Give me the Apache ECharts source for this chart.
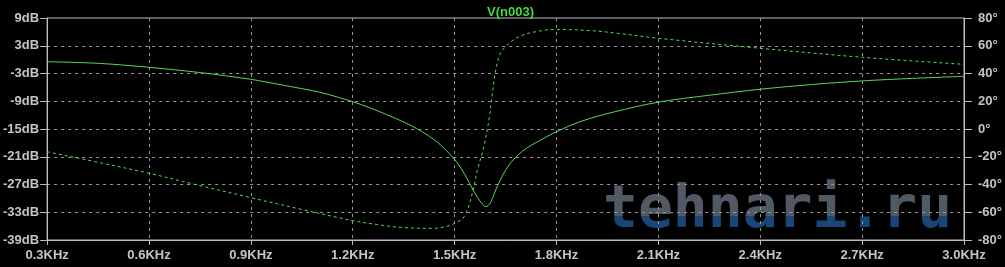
<!DOCTYPE html>
<html>
<head>
<meta charset="utf-8">
<script src="https://cdn.jsdelivr.net/npm/echarts@6/dist/echarts.min.js"></script>
<style>
html,body{margin:0;padding:0;background:#000;}
#c{width:1005px;height:267px;}
</style>
</head>
<body>
<div id="c"></div>
<script>
// Frequency axis (KHz)
const freqTicks = [0.3, 0.6, 0.9, 1.2, 1.5, 1.8, 2.1, 2.4, 2.7, 3.0];
const dbTicks = [-39, -33, -27, -21, -15, -9, -3, 3, 9];
const degTicks = [-80, -60, -40, -20, 0, 20, 40, 60, 80];

// Magnitude V(n003) in dB
const magFreq = [0.30, 0.45, 0.60, 0.75, 0.90, 1.00, 1.10, 1.16, 1.20, 1.25, 1.30, 1.35, 1.40, 1.45, 1.48, 1.50, 1.52, 1.54, 1.56, 1.575, 1.592, 1.605, 1.615, 1.63, 1.66, 1.70, 1.75, 1.80, 1.87, 1.97, 2.10, 2.25, 2.40, 2.55, 2.70, 2.85, 3.00];
const magDb = [-0.45, -0.8, -1.66, -2.8, -4.26, -5.6, -7.0, -8.2, -9.1, -10.4, -11.9, -13.5, -15.4, -17.9, -20.0, -21.6, -23.6, -26.2, -28.9, -30.6, -31.8, -31.0, -29.3, -26.7, -22.8, -19.8, -17.5, -15.6, -13.4, -11.3, -9.2, -7.7, -6.4, -5.4, -4.6, -4.05, -3.6];

// Phase V(n003) in degrees
const phFreq = [0.30, 0.45, 0.60, 0.75, 0.90, 1.05, 1.16, 1.20, 1.27, 1.34, 1.44, 1.48, 1.50, 1.528, 1.552, 1.567, 1.586, 1.601, 1.611, 1.621, 1.635, 1.655, 1.689, 1.738, 1.80, 1.90, 1.98, 2.10, 2.40, 2.70, 3.00];
const phDeg = [-16.4, -24.0, -31.9, -40.8, -49.5, -58.0, -64.0, -66.1, -68.8, -70.9, -71.6, -69.9, -68.0, -63.2, -46.4, -29.6, -12.8, 6.5, 25.7, 42.5, 54.6, 60.5, 66.5, 70.1, 71.8, 70.9, 69.0, 65.4, 58.2, 51.7, 46.6];

const watermark = 'tehnari.ru';

const magData = magFreq.map((f, i) => [f, magDb[i]]);
const phData = phFreq.map((f, i) => [f, phDeg[i]]);

const LABEL = '#c4c4c4';
const FRAME = '#bdbdbd';
const GRIDC = '#969696';
const GREEN = '#58d858';
const FONT = 'Liberation Sans';

const chart = echarts.init(document.getElementById('c'), null, {renderer: 'canvas'});
chart.setOption({
  backgroundColor: '#000',
  animation: false,
  title: {
    text: 'V(n003)',
    left: 482, top: 1,
    textStyle: {color: '#3fdc3f', fontSize: 13, fontWeight: 'bold', fontFamily: FONT}
  },
  grid: {left: 46, right: 38, top: 18, bottom: 27, show: true, borderColor: FRAME, borderWidth: 1, backgroundColor: 'transparent'},
  xAxis: {
    type: 'value', min: 0.3, max: 3.0, interval: 0.3,
    axisLine: {show: true, onZero: false, lineStyle: {color: FRAME, width: 1}},
    axisTick: {show: true, length: 5, lineStyle: {color: FRAME}},
    axisLabel: {color: LABEL, fontSize: 13, fontWeight: 'bold', fontFamily: FONT, margin: 9,
      formatter: v => v.toFixed(1) + 'KHz'},
    splitLine: {show: true, showMinLine: false, showMaxLine: false, lineStyle: {color: GRIDC, type: [3, 4], width: 1}}
  },
  yAxis: [{
    type: 'value', min: -39, max: 9, position: 'left',
    axisLine: {show: true, onZero: false, lineStyle: {color: FRAME, width: 1}},
    axisTick: {show: true, length: 7, customValues: dbTicks, lineStyle: {color: FRAME}},
    axisLabel: {color: LABEL, fontSize: 13, fontWeight: 'bold', fontFamily: FONT, margin: 8,
      customValues: dbTicks, formatter: v => v + 'dB'},
    splitLine: {show: false}
  }, {
    type: 'value', min: -80, max: 80, interval: 20, position: 'right',
    axisLine: {show: true, onZero: false, lineStyle: {color: FRAME, width: 1}},
    axisTick: {show: true, length: 8, lineStyle: {color: FRAME}},
    axisLabel: {color: LABEL, fontSize: 13, fontWeight: 'bold', fontFamily: FONT, margin: 14,
      formatter: v => v + '°'},
    splitLine: {show: true, showMinLine: false, showMaxLine: false, lineStyle: {color: GRIDC, type: [3, 4], width: 1}}
  }],
  series: [{
    type: 'line', name: 'mag', yAxisIndex: 0, data: magData,
    showSymbol: false, smooth: 0.35,
    lineStyle: {color: GREEN, width: 1}
  }, {
    type: 'line', name: 'phase', yAxisIndex: 1, data: phData,
    showSymbol: false, smooth: 0.35,
    lineStyle: {color: GREEN, width: 1, type: [3, 3]}
  }]
});

// two-tone watermark (grey top half, blue bottom half)
const zr = chart.getZr();
function addMark(color, clipY, clipH) {
  const t = new echarts.graphic.Text({
    z: -5,
    silent: true,
    style: {
      text: watermark, x: 603, y: 212,
      font: 'bold 58px "DejaVu Sans Mono"',
      fill: color, opacity: 0.88,
      verticalAlign: 'middle', align: 'left'
    }
  });
  t.setClipPath(new echarts.graphic.Rect({shape: {x: 590, y: clipY, width: 380, height: clipH}}));
  zr.add(t);
}
addMark('#5b6672', 150, 66);
addMark('#1b5088', 216, 40);
</script>
</body>
</html>
